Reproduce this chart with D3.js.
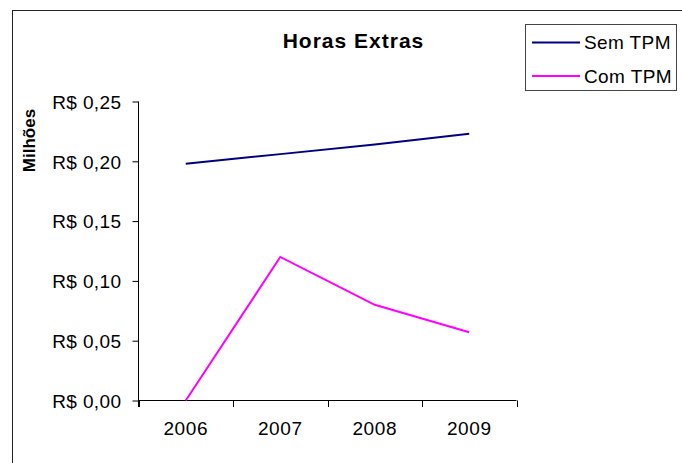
<!DOCTYPE html>
<html>
<head>
<meta charset="utf-8">
<script src="https://cdn.jsdelivr.net/npm/d3@7"></script>
<style>
  html, body { margin: 0; padding: 0; background: #fff; }
  svg { display: block; }
  text { font-family: "Liberation Sans", Arial, sans-serif; fill: #000; }
</style>
</head>
<body>
<svg id="chart" width="682" height="463"></svg>
<script>
const categories = ["2006", "2007", "2008", "2009"];
const semTPM = [0.198, 0.206, 0.214, 0.223];
const comTPM = [0.0, 0.12, 0.08, 0.057];
const seriesNames = ["Sem TPM", "Com TPM"];
const seriesColors = ["#000080", "#FF00FF"];
const yTicks = [0, 0.05, 0.10, 0.15, 0.20, 0.25];
const yTickLabels = ["R$ 0,00", "R$ 0,05", "R$ 0,10", "R$ 0,15", "R$ 0,20", "R$ 0,25"];
const title = "Horas Extras";
const yTitle = "Milhões";

const svg = d3.select("#chart");
const W = 682, H = 463;

// outer frame
svg.append("rect").attr("x", 12.5).attr("y", 10.5).attr("width", W).attr("height", H)
  .attr("fill", "#fff").attr("stroke", "#222").attr("stroke-width", 1);

const plot = { left: 138.5, right: 516.5, top: 101.5, bottom: 400.5 };

const x = d3.scaleBand().domain(categories).range([plot.left, plot.right]).padding(0);
const y = d3.scaleLinear().domain([0, 0.25]).range([plot.bottom, plot.top]);

// y axis
const yAxis = d3.axisLeft(y).tickValues(yTicks).tickSize(6).tickPadding(11)
  .tickFormat((d, i) => yTickLabels[i]);
const gy = svg.append("g").attr("transform", `translate(${plot.left},0)`).call(yAxis);
gy.select(".domain").attr("stroke", "#000").attr("d", `M0,${plot.top}V${plot.bottom + 6.5}`);
gy.selectAll(".tick line").attr("stroke", "#000");
gy.selectAll(".tick text").style("font-size", "19px").style("letter-spacing", "0.4px")
  .attr("font-family", null).attr("dy", "0.36em");

// x axis: labels at band centers, ticks at band boundaries
const xAxis = d3.axisBottom(x).tickSize(0).tickPadding(29);
const gx = svg.append("g").attr("transform", `translate(0,${plot.bottom})`).call(xAxis);
gx.select(".domain").attr("stroke", "#000").attr("d", `M${plot.left},0H${plot.right}`);
gx.selectAll(".tick text").style("font-size", "19px").style("letter-spacing", "0.6px")
  .attr("font-family", null).attr("dy", "0.3em");
const bounds = categories.map(c => x(c)).concat([x.range()[1]]);
gx.selectAll("line.bound").data(bounds).enter().append("line").attr("class", "bound")
  .attr("x1", d => Math.round(d) + 0.5).attr("x2", d => Math.round(d) + 0.5)
  .attr("y1", 0).attr("y2", 6.5).attr("stroke", "#000");

// lines
const line = d3.line()
  .x((d, i) => x(categories[i]) + x.bandwidth() / 2)
  .y(d => y(d));
[semTPM, comTPM].forEach((s, k) => {
  svg.append("path").datum(s).attr("d", line).attr("fill", "none")
    .attr("stroke", seriesColors[k]).attr("stroke-width", 2);
});

// title
svg.append("text").attr("x", 353.5).attr("y", 48).attr("text-anchor", "middle")
  .style("font-size", "21px").style("font-weight", "bold").style("letter-spacing", "1px")
  .text(title);

// y title
svg.append("text").attr("transform", "translate(34.5,140.5) rotate(-90)")
  .attr("text-anchor", "middle").style("font-size", "17px").style("font-weight", "bold")
  .text(yTitle);

// legend
const lg = svg.append("g");
lg.append("rect").attr("x", 525.5).attr("y", 24.5).attr("width", 151).attr("height", 66)
  .attr("fill", "#fff").attr("stroke", "#444");
seriesNames.forEach((n, i) => {
  const cy = 42.5 + i * 33.5;
  lg.append("line").attr("x1", 532).attr("x2", 580).attr("y1", cy).attr("y2", cy)
    .attr("stroke", seriesColors[i]).attr("stroke-width", 2);
  lg.append("text").attr("x", 584).attr("y", cy + 6.6)
    .style("font-size", "19px").style("letter-spacing", "0.4px").text(n);
});
</script>
</body>
</html>
